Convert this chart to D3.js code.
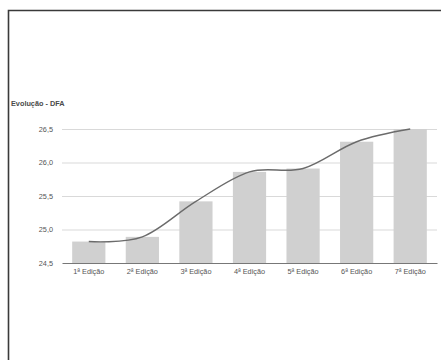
<!DOCTYPE html>
<html><head><meta charset="utf-8">
<script src="https://cdn.jsdelivr.net/npm/d3@7"></script>
<style>body{margin:0;background:#fff}svg{display:block}</style>
</head><body><svg id="c" width="441" height="360"></svg>
<script>
const categories = ["1ª Edição","2ª Edição","3ª Edição","4ª Edição","5ª Edição","6ª Edição","7ª Edição"];
const values = [24.82, 24.89, 25.42, 25.86, 25.91, 26.31, 26.5];
const yTicks = [24.5, 25.0, 25.5, 26.0, 26.5];
const title = "Evolução - DFA";

const svg = d3.select("#c");
const font = "'Liberation Sans', Arial, sans-serif";
svg.append("path").attr("d","M8.5,360 L8.5,10.5 L441,10.5").attr("fill","none").attr("stroke","#3a3a3a").attr("stroke-width",1.6);

const x = d3.scaleBand().domain(categories).range([62,437]).paddingInner(0.38).paddingOuter(0.19);
const y = d3.scaleLinear().domain([24.5,26.5]).range([263,129]);
const fmt = d => d3.format(".1f")(d).replace(".",",");

svg.append("text").attr("x",11).attr("y",106).text(title)
  .attr("font-family",font).attr("font-size",7.3).attr("fill","#4a4a4a").attr("font-weight","bold");

const yAxis = svg.append("g").attr("transform","translate(62,0)")
  .call(d3.axisLeft(y).tickValues(yTicks).tickFormat(fmt).tickSize(-375).tickPadding(9));
yAxis.select(".domain").remove();
yAxis.selectAll(".tick line").attr("stroke","#d9d9d9").attr("stroke-width",1);
yAxis.selectAll(".tick text").attr("font-family",font).attr("font-size",7.3).attr("fill","#555");
yAxis.selectAll(".tick").filter(d=>d===24.5).select("line").remove();

svg.append("g").selectAll("rect").data(values).join("rect")
  .attr("x",(d,i)=>x(categories[i])).attr("width",x.bandwidth())
  .attr("y",d=>y(d)).attr("height",d=>y(24.5)-y(d)).attr("fill","#d0d0d0");

const xAxis = svg.append("g").attr("transform","translate(0,263)")
  .call(d3.axisBottom(x).tickSize(0).tickPadding(6));
xAxis.select(".domain").attr("stroke","#777").attr("stroke-width",1.2);
xAxis.selectAll(".tick text").attr("font-family",font).attr("font-size",7.3).attr("fill","#555");

const line = d3.line().x((d,i)=>x(categories[i])+x.bandwidth()/2).y(d=>y(d)).curve(d3.curveCardinal.tension(0));
svg.append("path").datum(values).attr("d",line).attr("fill","none").attr("stroke","#6b6b6b").attr("stroke-width",1.4);
</script></body></html>
